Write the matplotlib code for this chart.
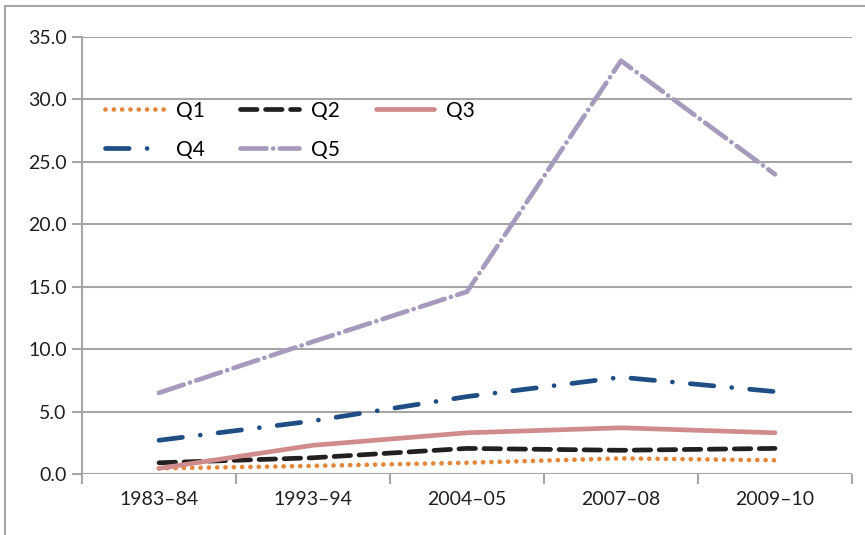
import matplotlib.pyplot as plt
import numpy as np
from matplotlib.patches import Rectangle

years = ['1983–84', '1993–94', '2004–05', '2007–08', '2009–10']
q1 = [0.45, 0.65, 0.9, 1.25, 1.1]
q2 = [0.9, 1.3, 2.05, 1.9, 2.05]
q3 = [0.45, 2.3, 3.3, 3.7, 3.3]
q4 = [2.7, 4.25, 6.2, 7.75, 6.6]
q5 = [6.5, 10.6, 14.6, 33.1, 24.0]

plt.rcParams['font.family'] = ['Lato', 'DejaVu Sans']

fig = plt.figure(figsize=(8.65, 5.35), dpi=100)
ax = fig.add_axes([82/865, 61/535, 770/865, 437/535])

# border round the whole picture (left and top visible)
fig.patches.append(Rectangle((5/865, -0.1), 1.2, (529/535) + 0.1, transform=fig.transFigure,
                             fill=False, edgecolor='#A6A6A6', linewidth=1.5))

x = np.arange(len(years))
lw = 3.4
h1, = ax.plot(x, q1, color='#E3883A', lw=lw, linestyle=(0, (0.01, 1.75)),
              dash_capstyle='round', label='Q1')
h2, = ax.plot(x, q2, color='#231F20', lw=lw, linestyle=(0, (3.5, 1.8)),
              dash_capstyle='round', label='Q2')
h3, = ax.plot(x, q3, color='#D08C8C', lw=lw, solid_capstyle='round', label='Q3')
h4, = ax.plot(x, q4, color='#1F4E85', lw=lw, linestyle=(0, (5.0, 3.8, 0.01, 3.8)),
              dash_capstyle='round', label='Q4')
h5, = ax.plot(x, q5, color='#A89ABD', lw=lw, linestyle=(0, (5.5, 1.4, 0.01, 1.4)),
              dash_capstyle='round', label='Q5')

ax.set_xlim(-0.5, len(years) - 0.5)
ax.set_ylim(0, 35)
ax.set_yticks(np.arange(0, 36, 5))
ax.set_yticklabels([f'{v:.1f}' for v in np.arange(0, 36, 5)])
ax.set_xticks(x)
ax.set_xticklabels(years)
ax.set_xticks(np.arange(-0.5, len(years), 1), minor=True)

ax.yaxis.grid(True, color='#A6A6A6', lw=1.5)
ax.set_axisbelow(True)
for s in ['top', 'right', 'bottom']:
    ax.spines[s].set_visible(False)
ax.spines['left'].set_color('#A6A6A6')
ax.spines['left'].set_linewidth(1.5)

ax.tick_params(axis='y', length=7, width=1.5, color='#A6A6A6', labelsize=14,
               labelcolor='#231F20', pad=4)
ax.tick_params(axis='x', which='major', length=0, labelsize=14,
               labelcolor='#231F20', pad=12)
ax.tick_params(axis='x', which='minor', length=7, width=1.5, color='#A6A6A6')

# legend filled row by row
leg = ax.legend([h1, h4, h2, h5, h3], ['Q1', 'Q4', 'Q2', 'Q5', 'Q3'], ncol=3,
                loc='upper left', bbox_to_anchor=(0.006, 0.897), frameon=False,
                fontsize=15, handlelength=2.8, columnspacing=1.7,
                labelspacing=0.9, handletextpad=0.6, borderaxespad=0.5)

fig.savefig('out.png', dpi=100)
